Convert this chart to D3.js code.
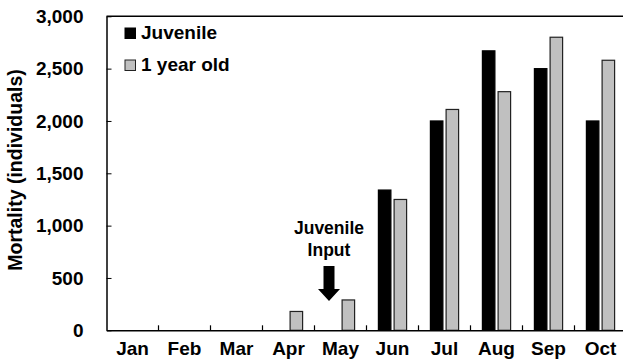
<!DOCTYPE html>
<html lang="en">
<head>
    <meta charset="UTF-8">
    <script src="https://d3js.org/d3.v7.min.js"></script>
    <style>
        body { margin: 0; background: #fff; font-family: "Liberation Sans", Arial, sans-serif; }
        text { font-weight: bold; fill: #000; }
    </style>
</head>
<body>
    <svg id="chart" width="623" height="360"></svg>
    <script>
        const months = ["Jan", "Feb", "Mar", "Apr", "May", "Jun", "Jul", "Aug", "Sep", "Oct"];
        const juvenile = [0, 0, 0, 0, 0, 1340, 2000, 2670, 2500, 2000];
        const oneYearOld = [0, 0, 0, 180, 290, 1250, 2110, 2280, 2800, 2580];
        const yTicks = [0, 500, 1000, 1500, 2000, 2500, 3000];
        const seriesNames = ["Juvenile", "1 year old"];
        const seriesColors = ["#000000", "#c0c0c0"];

        const width = 623, height = 360;
        const margin = { top: 16.3, right: -3.5, bottom: 29.7, left: 106.5 };

        const svg = d3.select("#chart");

        const x = d3.scaleBand()
            .domain(months)
            .range([margin.left, width - margin.right])
            .padding(0);

        const y = d3.scaleLinear()
            .domain([0, 3000])
            .range([height - margin.bottom, margin.top]);

        const barW = 12.5, gap = 3.2;
        const offset = (x.bandwidth() - 2 * barW - gap) / 2;

        const data = [];
        months.forEach((m, i) => {
            data.push({ m, s: 0, v: juvenile[i] });
            data.push({ m, s: 1, v: oneYearOld[i] });
        });

        svg.selectAll("rect.bar")
            .data(data.filter(d => d.v > 0))
            .enter().append("rect")
            .attr("class", "bar")
            .attr("x", d => x(d.m) + offset + d.s * (barW + gap))
            .attr("y", d => y(d.v))
            .attr("width", barW)
            .attr("height", d => y(0) - y(d.v))
            .attr("fill", d => seriesColors[d.s])
            .attr("stroke", d => d.s === 0 ? "#000" : "#222")
            .attr("stroke-width", 1.2);

        // top frame line
        svg.append("line")
            .attr("x1", margin.left).attr("x2", width)
            .attr("y1", y(3000)).attr("y2", y(3000))
            .attr("stroke", "#000").attr("stroke-width", 1.5);

        // y axis
        const yAxis = svg.append("g")
            .attr("transform", `translate(${margin.left},0)`)
            .call(d3.axisLeft(y).tickValues(yTicks).tickFormat(d3.format(",")).tickSizeInner(-5).tickSizeOuter(0).tickPadding(23));
        yAxis.select(".domain").attr("stroke-width", 1.5);
        yAxis.selectAll("text").style("font-size", "19px").style("font-family", "Liberation Sans, Arial, sans-serif").style("font-weight", "bold");

        // x axis
        const xAxis = svg.append("g")
            .attr("transform", `translate(0,${y(0)})`)
            .call(d3.axisBottom(x).tickSize(0).tickPadding(11));
        xAxis.select(".domain").attr("stroke-width", 1.5);
        xAxis.selectAll("text").style("font-size", "19px").style("font-family", "Liberation Sans, Arial, sans-serif").style("font-weight", "bold");

        // category boundary ticks
        svg.selectAll("line.xtick")
            .data(months.slice(1))
            .enter().append("line")
            .attr("class", "xtick")
            .attr("x1", d => x(d)).attr("x2", d => x(d))
            .attr("y1", y(0)).attr("y2", y(0) - 5)
            .attr("stroke", "#000").attr("stroke-width", 1.2);

        // y title
        svg.append("text")
            .attr("transform", "translate(22,170) rotate(-90)")
            .attr("text-anchor", "middle")
            .style("font-size", "19.5px")
            .text("Mortality (individuals)");

        // legend
        const legend = svg.append("g").attr("transform", "translate(125,28)");
        seriesNames.forEach((name, i) => {
            const row = legend.append("g").attr("transform", `translate(0,${i * 32})`);
            row.append("rect")
                .attr("width", 10.5).attr("height", 10.5)
                .attr("fill", seriesColors[i])
                .attr("stroke", i === 0 ? "#000" : "#222")
                .attr("stroke-width", 1);
            row.append("text")
                .attr("x", 16).attr("y", 11)
                .style("font-size", "19px")
                .text(name);
        });

        // juvenile input annotation
        const ax = x("May") + x.bandwidth() / 2 - 11.5;
        svg.append("text")
            .attr("x", ax).attr("y", 233.5)
            .attr("text-anchor", "middle")
            .style("font-size", "17.5px")
            .text("Juvenile");
        svg.append("text")
            .attr("x", ax).attr("y", 255.5)
            .attr("text-anchor", "middle")
            .style("font-size", "17.5px")
            .text("Input");
        svg.append("path")
            .attr("d", `M${ax - 5.5},266 L${ax + 5.5},266 L${ax + 5.5},289 L${ax + 11},289 L${ax},301 L${ax - 11},289 L${ax - 5.5},289 Z`)
            .attr("fill", "#000");
    </script>
</body>
</html>
